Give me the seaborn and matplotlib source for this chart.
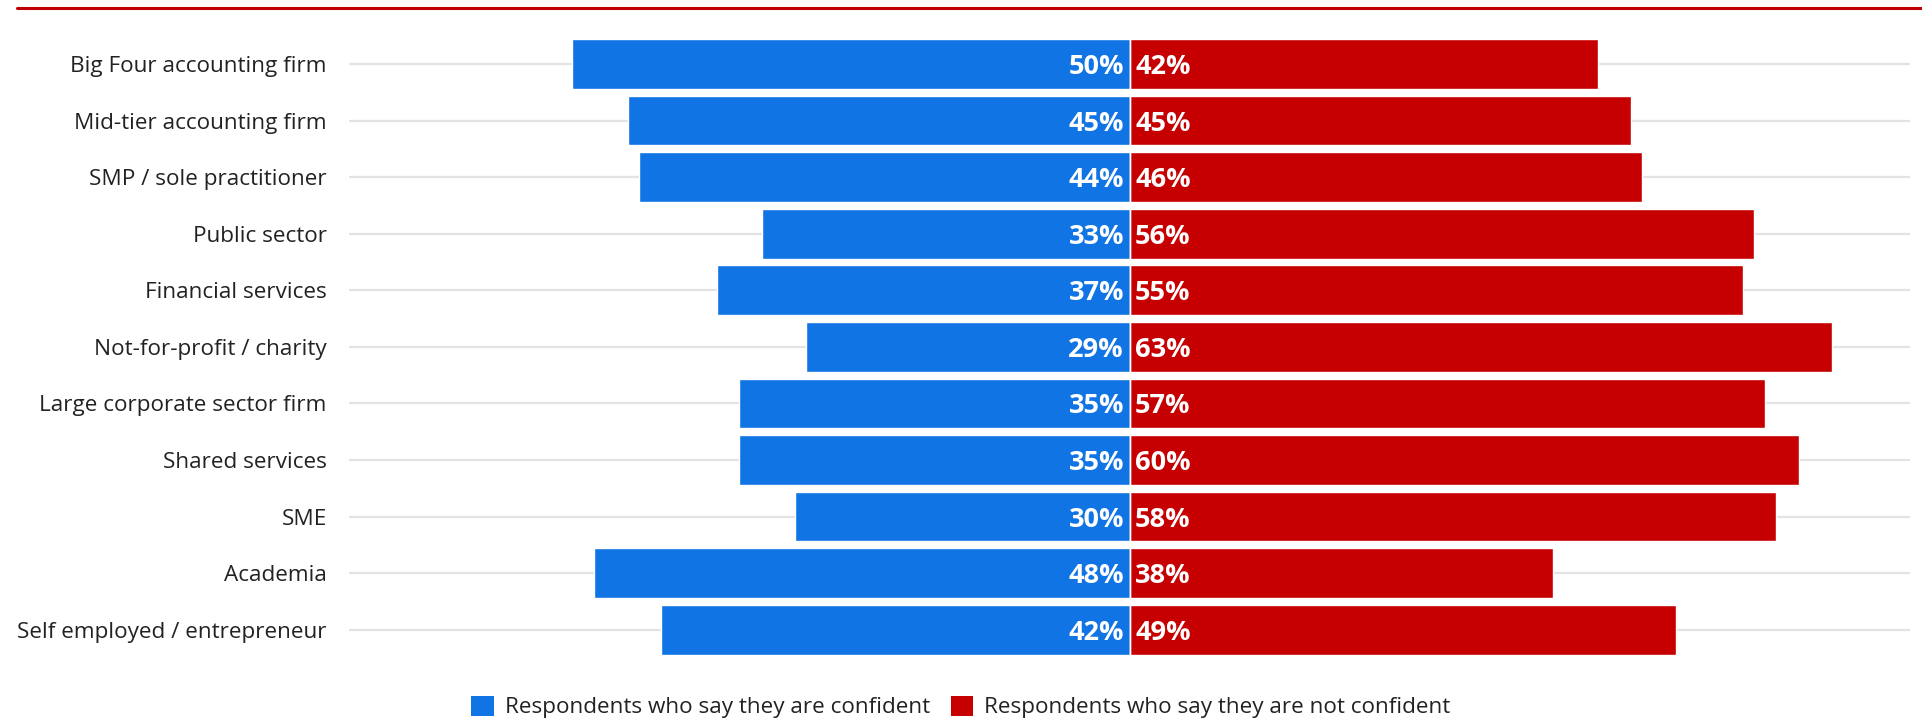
import matplotlib
matplotlib.use("Agg")
import matplotlib.pyplot as plt
from matplotlib.lines import Line2D
from matplotlib.patches import Patch
import seaborn as sns
import pandas as pd

categories = [
    "Big Four accounting firm",
    "Mid-tier accounting firm",
    "SMP / sole practitioner",
    "Public sector",
    "Financial services",
    "Not-for-profit / charity",
    "Large corporate sector firm",
    "Shared services",
    "SME",
    "Academia",
    "Self employed / entrepreneur",
]
confident = [50, 45, 44, 33, 37, 29, 35, 35, 30, 48, 42]
not_confident = [42, 45, 46, 56, 55, 63, 57, 60, 58, 38, 49]
series_names = [
    "Respondents who say they are confident",
    "Respondents who say they are not confident",
]

BLUE = "#1074E4"
RED = "#C60000"

sns.set_theme(style="white")
plt.rcParams["font.family"] = ["Open Sans", "DejaVu Sans"]

rows = []
for cat, c, n in zip(categories, confident, not_confident):
    rows.append({"category": cat, "value": -c, "series": series_names[0]})
    rows.append({"category": cat, "value": n, "series": series_names[1]})
df = pd.DataFrame(rows)

fig = plt.figure(figsize=(19.22, 7.23), dpi=100)
ax = fig.add_axes([0.1816, 0.0899, 0.9938 - 0.1816, 0.9506 - 0.0899])

# light row guides behind the bars
for i in range(len(categories)):
    ax.axhline(i, color="#E3E3E3", lw=1.6, zorder=0)

sns.barplot(
    data=df, y="category", x="value", hue="series", order=categories,
    hue_order=series_names, palette=[BLUE, RED], dodge=False,
    width=0.88, orient="h", saturation=1, legend=False, ax=ax, zorder=2,
)
ax.axvline(0, color="white", lw=1.0, zorder=3)

ax.set_xlim(-70, 70)
ax.set_ylim(len(categories) - 0.5, -0.5)
ax.set_xlabel("")
ax.set_ylabel("")
ax.set_xticks([])
ax.tick_params(axis="y", length=0, pad=16, labelsize=16.2, labelcolor="#222222")
for s in ax.spines.values():
    s.set_visible(False)

# value labels inside the bars, next to the centre line
for i, (c, n) in enumerate(zip(confident, not_confident)):
    ax.text(-0.5, i, f"{c}%", ha="right", va="center_baseline", color="white",
            fontsize=19.5, fontweight="bold", zorder=4)
    ax.text(0.5, i, f"{n}%", ha="left", va="center_baseline", color="white",
            fontsize=19.5, fontweight="bold", zorder=4)

# red rule across the top
fig.add_artist(Line2D([17 / 1922, 1.0], [1 - 7.5 / 723, 1 - 7.5 / 723],
                      color="#C00000", lw=2.2, transform=fig.transFigure))

handles = [Patch(facecolor=BLUE, edgecolor="none"),
           Patch(facecolor=RED, edgecolor="none")]
fig.legend(handles, series_names, loc="center", bbox_to_anchor=(0.5, 1 - 707 / 723),
           ncol=2, frameon=False, fontsize=16.2, handlelength=1.0, handleheight=1.0,
           handletextpad=0.5, columnspacing=0.9, labelcolor="#222222")

fig.savefig("out.png", dpi=100)
